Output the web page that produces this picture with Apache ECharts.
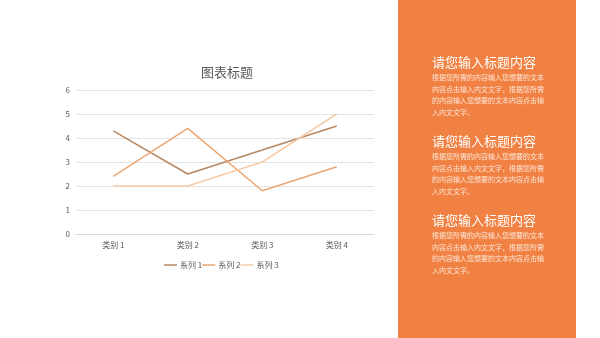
<!DOCTYPE html>
<html>
<head>
<meta charset="utf-8">
<script src="https://cdn.jsdelivr.net/npm/echarts@6/dist/echarts.min.js"></script>
<style>
  html, body { margin: 0; padding: 0; background: #fff; }
  #chart { width: 600px; height: 338px; }
</style>
</head>
<body>
<div id="chart"></div>
<script>
// chart data
const categories = ['类别 1', '类别 2', '类别 3', '类别 4']
const seriesNames = ['系列 1', '系列 2', '系列 3']
const series1 = [4.3, 2.5, 3.5, 4.5]
const series2 = [2.4, 4.4, 1.8, 2.8]
const series3 = [2, 2, 3, 5]
const yTicks = [0, 1, 2, 3, 4, 5, 6]

// side panel text
const panelTitle = '请您输入标题内容'
const panelBody = ['根据您所需的内容输入您想要的文本', '内容点击输入内文文字，根据您所需', '的内容输入您想要的文本内容点击输', '入内文文字。']

const colors = ['#b8875f', '#eda672', '#f5cca9']
const font = '"Noto Sans CJK SC", "Noto Sans", sans-serif'

const chart = echarts.init(document.getElementById('chart'))

const panelItems = [{
  type: 'rect',
  shape: { x: 398, y: 0, width: 178, height: 338 },
  style: { fill: '#f08142' },
  silent: true
}]
;[63, 142, 221].forEach(top => {
  panelItems.push({
    type: 'text',
    left: 432,
    top: top - 7,
    style: { text: panelTitle, fill: '#fff', font: '13px ' + font }
  })
  panelItems.push({
    type: 'text',
    left: 432,
    top: top + 9,
    style: { text: panelBody.join('\n'), fill: '#fde6d6', font: '7px ' + font, lineHeight: 11.4 }
  })
})

const mkLine = (name, data, i) => ({
  name: name,
  type: 'line',
  data: data,
  symbol: 'none',
  lineStyle: { color: colors[i], width: 1.5 },
  itemStyle: { color: colors[i] },
  animation: false
})

chart.setOption({
  textStyle: { fontFamily: font },
  title: {
    text: '图表标题',
    left: 222,
    textAlign: 'center',
    top: 61,
    textStyle: { fontSize: 13, fontWeight: 'normal', color: '#595959', fontFamily: font }
  },
  legend: {
    data: seriesNames,
    left: 159,
    top: 256,
    icon: 'rect',
    itemWidth: 13,
    itemHeight: 1.5,
    itemGap: 0,
    textStyle: { fontSize: 8, color: '#595959', fontFamily: font, padding: [0, 0, 0, -2] }
  },
  grid: { left: 76, right: 226, top: 90, bottom: 104 },
  xAxis: {
    type: 'category',
    data: categories,
    axisLine: { lineStyle: { color: '#d9d9d9' } },
    axisTick: { show: false },
    axisLabel: { fontSize: 8, color: '#595959', margin: 7 }
  },
  yAxis: {
    type: 'value',
    min: yTicks[0],
    max: yTicks[yTicks.length - 1],
    interval: 1,
    axisLine: { show: false },
    axisTick: { show: false },
    splitLine: { lineStyle: { color: '#e3e3e3' } },
    axisLabel: { fontSize: 8, color: '#595959', margin: 6 }
  },
  series: [
    mkLine(seriesNames[0], series1, 0),
    mkLine(seriesNames[1], series2, 1),
    mkLine(seriesNames[2], series3, 2)
  ],
  graphic: panelItems
})
</script>
</body>
</html>
